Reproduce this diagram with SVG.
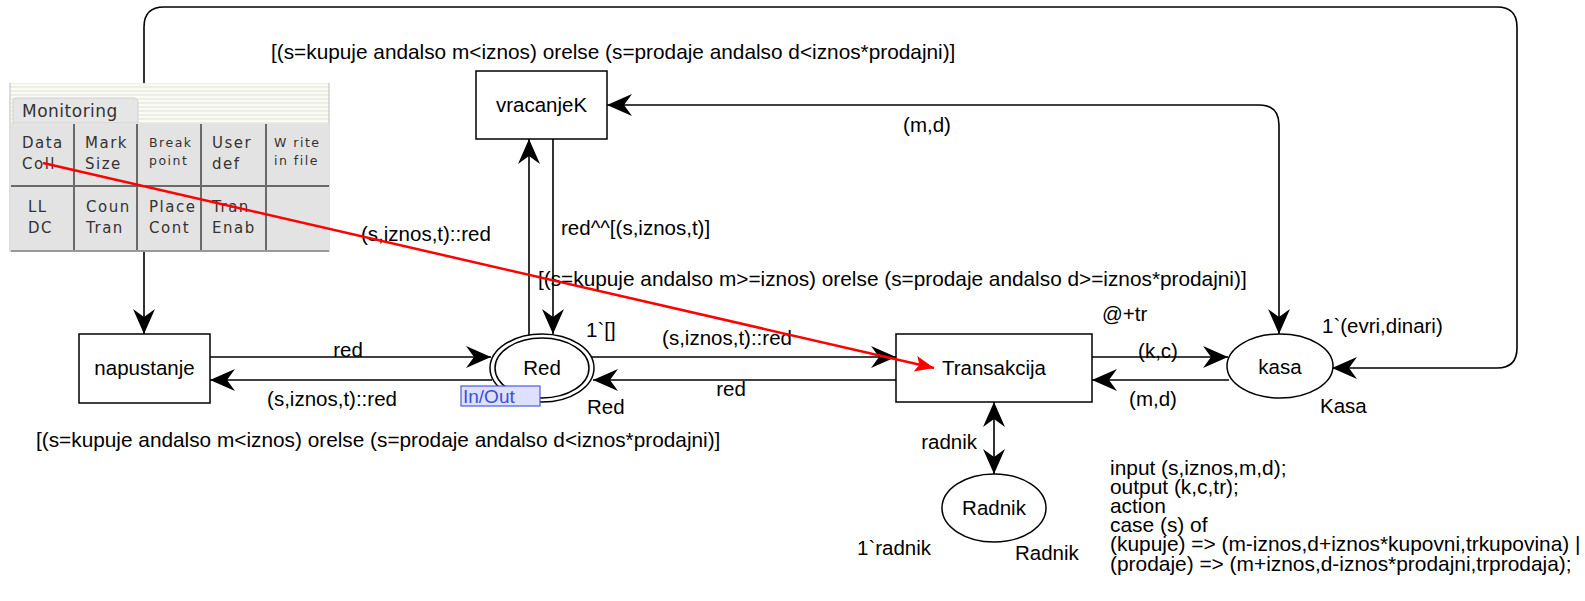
<svg xmlns="http://www.w3.org/2000/svg" width="1585" height="601" viewBox="0 0 1585 601">
<style>
  .t { font-family: "Liberation Sans", Arial, sans-serif; font-size: 20.5px; fill: #000; }
  .g { font-size: 20.8px; }
  .c { font-size: 20.9px; }
  .m { text-anchor: middle; }
  .e { text-anchor: end; }
  .node { fill: #fff; stroke: #000; stroke-width: 1.5; }
  .arc { fill: none; stroke: #000; stroke-width: 1.6; }
  .pal { font-family: "DejaVu Sans", sans-serif; font-size: 15px; fill: #333; letter-spacing: 1.5px; }
  .pals { font-family: "DejaVu Sans", sans-serif; font-size: 12.5px; fill: #333; letter-spacing: 1.5px; }
  .sep { stroke: #6a6a6a; stroke-width: 2; }
</style>
<defs>
  <marker id="ah" viewBox="-26 -13 28 26" markerWidth="28" markerHeight="26" refX="0" refY="0" orient="auto-start-reverse" markerUnits="userSpaceOnUse">
    <path d="M0,0 L-25,-11 L-17,0 L-25,11 Z" fill="#000"/>
  </marker>
  <marker id="rh" viewBox="-20 -9 21 18" markerWidth="21" markerHeight="18" refX="0" refY="0" orient="auto" markerUnits="userSpaceOnUse">
    <path d="M0,0 L-19,-8 L-15,0 L-19,8 Z" fill="#f00"/>
  </marker>
  <pattern id="stripes" width="4" height="4" patternUnits="userSpaceOnUse">
    <rect width="4" height="4" fill="#fbfbf6"/>
    <rect y="2" width="4" height="2" fill="#efeee4"/>
  </pattern>
</defs>

<g id="connectors">
  <path class="arc" d="M1332,368 L1497,368 Q1517,368 1517,348 L1517,27 Q1517,7 1497,7 L164,7 Q144,7 144,27 L144,334" marker-start="url(#ah)" marker-end="url(#ah)"/>
  <path class="arc" d="M607,105 L1259,105 Q1279,105 1279,125 L1279,334" marker-start="url(#ah)" marker-end="url(#ah)"/>
  <path class="arc" d="M529,335 L529,139" marker-end="url(#ah)"/>
  <path class="arc" d="M553,139 L553,334" marker-end="url(#ah)"/>
  <path class="arc" d="M210,357 L491,357" marker-end="url(#ah)"/>
  <path class="arc" d="M492,380 L210,380" marker-end="url(#ah)"/>
  <path class="arc" d="M592,357 L896,357" marker-end="url(#ah)"/>
  <path class="arc" d="M896,380 L593,380" marker-end="url(#ah)"/>
  <path class="arc" d="M1092,357 L1228,357" marker-end="url(#ah)"/>
  <path class="arc" d="M1229,380 L1092,380" marker-end="url(#ah)"/>
  <path class="arc" d="M994,402 L994,474" marker-start="url(#ah)" marker-end="url(#ah)"/>
</g>

<g id="napustanje">
  <rect class="node" x="79" y="334" width="131" height="69"/>
  <text class="t m" x="144.5" y="375">napustanje</text>
</g>
<g id="vracanjeK">
  <rect class="node" x="476" y="71" width="131" height="68"/>
  <text class="t m" x="541.5" y="112">vracanjeK</text>
</g>
<g id="Transakcija">
  <rect class="node" x="896" y="334" width="196" height="68"/>
  <text class="t m" x="994" y="375">Transakcija</text>
</g>
<g id="Red">
  <ellipse class="node" cx="542" cy="368" rx="52" ry="34"/>
  <ellipse class="node" cx="542" cy="368" rx="47" ry="30"/>
  <text class="t m" x="542" y="375">Red</text>
  <rect x="461" y="386" width="79" height="20" fill="#dde0ff" stroke="#4a5be8" stroke-width="1.2"/>
  <text class="t" x="463" y="403" style="fill:#3b4fd8;font-size:19px">In/Out</text>
  <text class="t" x="587" y="414">Red</text>
  <text class="t" x="586" y="337">1`[]</text>
</g>
<g id="kasa">
  <ellipse class="node" cx="1280" cy="366" rx="53" ry="32"/>
  <text class="t m" x="1280" y="374">kasa</text>
  <text class="t" x="1320" y="413">Kasa</text>
  <text class="t" x="1322" y="333">1`(evri,dinari)</text>
</g>
<g id="Radnik">
  <ellipse class="node" cx="994" cy="508" rx="52" ry="34"/>
  <text class="t m" x="994" y="515">Radnik</text>
  <text class="t" x="1015" y="560">Radnik</text>
  <text class="t" x="857" y="555">1`radnik</text>
</g>

<g id="labels">
  <text class="t g" x="271" y="59">[(s=kupuje andalso m&lt;iznos) orelse (s=prodaje andalso d&lt;iznos*prodajni)]</text>
  <text class="t m" x="927" y="132">(m,d)</text>
  <text class="t" x="561" y="235">red^^[(s,iznos,t)]</text>
  <text class="t g" x="538" y="286">[(s=kupuje andalso m&gt;=iznos) orelse (s=prodaje andalso d&gt;=iznos*prodajni)]</text>
  <text class="t" x="361" y="241">(s,iznos,t)::red</text>
  <text class="t m" x="348" y="357">red</text>
  <text class="t m" x="332" y="406">(s,iznos,t)::red</text>
  <text class="t m" x="727" y="345">(s,iznos,t)::red</text>
  <text class="t m" x="731" y="396">red</text>
  <text class="t" x="1102" y="321">@+tr</text>
  <text class="t m" x="1158" y="358">(k,c)</text>
  <text class="t m" x="1153" y="406">(m,d)</text>
  <text class="t e" x="977" y="449">radnik</text>
  <text class="t g" x="36" y="447">[(s=kupuje andalso m&lt;iznos) orelse (s=prodaje andalso d&lt;iznos*prodajni)]</text>
  <text class="t c" x="1110" y="475">input (s,iznos,m,d);</text>
  <text class="t c" x="1110" y="494">output (k,c,tr);</text>
  <text class="t c" x="1110" y="513">action</text>
  <text class="t c" x="1110" y="532">case (s) of</text>
  <text class="t c" x="1110" y="551">(kupuje) =&gt; (m-iznos,d+iznos*kupovni,trkupovina) |</text>
  <text class="t c" x="1110" y="571">(prodaje) =&gt; (m+iznos,d-iznos*prodajni,trprodaja);</text>
</g>

<g id="monitoring-palette">
  <rect x="10" y="83" width="319" height="40" fill="url(#stripes)"/>
  <line x1="10" y1="83" x2="10" y2="252" stroke="#bdbdbd" stroke-width="1"/>
  <line x1="329" y1="83" x2="329" y2="252" stroke="#bdbdbd" stroke-width="1"/>
  <path d="M13,123 L13,101 Q13,98 16,98 L133,98 Q138,98 138,103 L138,123 Z" fill="#e6e6e6" stroke="#d0d0d0"/>
  <text x="22" y="117" style="font-family:'DejaVu Sans',sans-serif;font-size:17px;fill:#333;letter-spacing:0.5px">Monitoring</text>
  <rect x="11" y="123" width="318" height="129" fill="#e3e3e3"/>
  <line class="sep" x1="11" y1="186" x2="329" y2="186"/>
  <line class="sep" x1="74" y1="124" x2="74" y2="251"/>
  <line class="sep" x1="137" y1="124" x2="137" y2="251"/>
  <line class="sep" x1="201" y1="124" x2="201" y2="251"/>
  <line class="sep" x1="266" y1="124" x2="266" y2="251"/>
  <line x1="11" y1="251" x2="329" y2="251" stroke="#999" stroke-width="2"/>
  <text class="pal" x="22" y="148">Data</text>
  <text class="pal" x="22" y="169">Coll</text>
  <text class="pal" x="85" y="148">Mark</text>
  <text class="pal" x="85" y="169">Size</text>
  <text class="pals" x="149" y="147">Break</text>
  <text class="pals" x="149" y="165">point</text>
  <text class="pal" x="212" y="148">User</text>
  <text class="pal" x="212" y="169">def</text>
  <text class="pals" x="274" y="147">W rite</text>
  <text class="pals" x="274" y="165">in file</text>
  <text class="pal" x="28" y="212">LL</text>
  <text class="pal" x="28" y="233">DC</text>
  <text class="pal" x="86" y="212">Coun</text>
  <text class="pal" x="86" y="233">Tran</text>
  <text class="pal" x="149" y="212">Place</text>
  <text class="pal" x="149" y="233">Cont</text>
  <text class="pal" x="212" y="212">Tran</text>
  <text class="pal" x="212" y="233">Enab</text>
</g>

<g id="red-arrow">
  <line x1="43" y1="163" x2="934" y2="368" stroke="#f00" stroke-width="2.5" marker-end="url(#rh)"/>
</g>
</svg>
